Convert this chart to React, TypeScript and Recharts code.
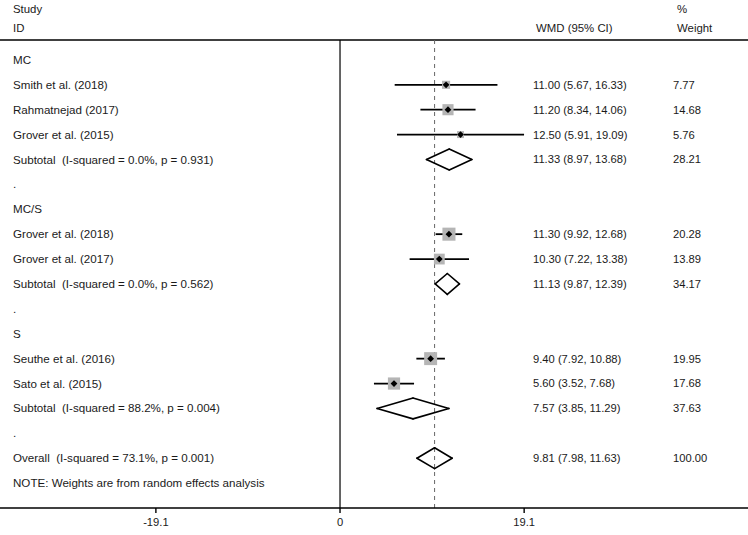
import React from "react";
import {
  ComposedChart,
  Scatter,
  XAxis,
  YAxis,
  ReferenceLine,
} from "recharts";

// individual studies
const studyNames = [
  "Smith et al. (2018)",
  "Rahmatnejad (2017)",
  "Grover et al. (2015)",
  "Grover et al. (2018)",
  "Grover et al. (2017)",
  "Seuthe et al. (2016)",
  "Sato et al. (2015)",
];
const studyRows = [1, 2, 3, 7, 8, 12, 13];
const studyEst = [11.0, 11.2, 12.5, 11.3, 10.3, 9.4, 5.6];
const studyLo = [5.67, 8.34, 5.91, 9.92, 7.22, 7.92, 3.52];
const studyHi = [16.33, 14.06, 19.09, 12.68, 13.38, 10.88, 7.68];
const studyWeight = [7.77, 14.68, 5.76, 20.28, 13.89, 19.95, 17.68];

// subtotals + overall
const pooledNames = [
  "Subtotal  (I-squared = 0.0%, p = 0.931)",
  "Subtotal  (I-squared = 0.0%, p = 0.562)",
  "Subtotal  (I-squared = 88.2%, p = 0.004)",
  "Overall  (I-squared = 73.1%, p = 0.001)",
];
const pooledRows = [4, 9, 14, 16];
const pooledEst = [11.33, 11.13, 7.57, 9.81];
const pooledLo = [8.97, 9.87, 3.85, 7.98];
const pooledHi = [13.68, 12.39, 11.29, 11.63];
const pooledWeight = [28.21, 34.17, 37.63, 100.0];

const groupNames = ["MC", "MC/S", "S"];
const groupRows = [0, 6, 11];
const spacerRows = [5, 10, 15];
const noteRow = 17;
const noteText = "NOTE: Weights are from random effects analysis";

const xTicks = [-19.1, 0, 19.1];

const W = 748;
const H = 535;
const FONT = "'Liberation Sans', Arial, Helvetica, sans-serif";
const INK = "#1a1a1a";
const X_DOMAIN: [number, number] = [-35.27, 42.32];
const Y_DOMAIN: [number, number] = [-0.8, 18];
const DIAMOND_H = 0.42;

const fmt = (v: number) => v.toFixed(2);

type RowInfo = { y: number; label: string; ci?: string; weight?: string };
const rowData: RowInfo[] = [];
groupRows.forEach((r, i) => rowData.push({ y: r, label: groupNames[i] }));
spacerRows.forEach((r) => rowData.push({ y: r, label: "." }));
rowData.push({ y: noteRow, label: noteText });
studyRows.forEach((r, i) =>
  rowData.push({
    y: r,
    label: studyNames[i],
    ci: `${fmt(studyEst[i])} (${fmt(studyLo[i])}, ${fmt(studyHi[i])})`,
    weight: fmt(studyWeight[i]),
  })
);
pooledRows.forEach((r, i) =>
  rowData.push({
    y: r,
    label: pooledNames[i],
    ci: `${fmt(pooledEst[i])} (${fmt(pooledLo[i])}, ${fmt(pooledHi[i])})`,
    weight: fmt(pooledWeight[i]),
  })
);
// text rows are anchored to the left edge of the x domain
const textData = rowData.map((r) => ({ ...r, x: X_DOMAIN[0] }));

const studyData = studyNames.map((n, i) => ({
  name: n,
  x: studyEst[i],
  y: studyRows[i],
  w: studyWeight[i],
}));

function RowText(props: any) {
  const { cy, payload } = props;
  const common = {
    y: cy,
    dy: "0.35em",
    fontFamily: FONT,
    fill: INK,
    style: { whiteSpace: "pre" as const },
  };
  return (
    <g>
      <text x={13} fontSize={11.6} {...common}>
        {payload.label}
      </text>
      {payload.ci && (
        <text x={533} fontSize={11.2} {...common}>
          {payload.ci}
        </text>
      )}
      {payload.weight && (
        <text x={673} fontSize={11.2} {...common}>
          {payload.weight}
        </text>
      )}
    </g>
  );
}

function WeightBox(props: any) {
  const { cx, cy, payload } = props;
  const s = 2.9 * Math.sqrt(payload.w);
  return <rect x={cx - s / 2} y={cy - s / 2} width={s} height={s} fill="#b5b5b5" />;
}

function EstDot(props: any) {
  const { cx, cy } = props;
  const d = 3.4;
  return (
    <polygon
      points={`${cx - d},${cy} ${cx},${cy - d} ${cx + d},${cy} ${cx},${cy + d}`}
      fill="#000"
    />
  );
}

const headStyle: React.CSSProperties = {
  position: "absolute",
  fontSize: 11.4,
  fontFamily: FONT,
  color: INK,
  lineHeight: "13px",
  whiteSpace: "pre",
};

export default function App() {
  const overall = pooledEst[pooledEst.length - 1];
  return (
    <div style={{ position: "relative", width: W, height: H, background: "#fff" }}>
      <style>{"body{margin:0}"}</style>
      <div style={{ ...headStyle, left: 13, top: 3 }}>Study</div>
      <div style={{ ...headStyle, left: 13, top: 22 }}>ID</div>
      <div style={{ ...headStyle, left: 536, top: 22 }}>WMD (95% CI)</div>
      <div style={{ ...headStyle, left: 677, top: 3 }}>%</div>
      <div style={{ ...headStyle, left: 677, top: 22 }}>Weight</div>
      <ComposedChart
        width={W}
        height={H}
        margin={{ top: 40, right: 0, bottom: 0, left: 0 }}
        style={{ position: "absolute", left: 0, top: 0 }}
      >
        <XAxis
          type="number"
          dataKey="x"
          domain={X_DOMAIN}
          allowDataOverflow
          ticks={xTicks}
          interval={0}
          height={27}
          tickSize={5}
          tickMargin={5}
          tickFormatter={(v: number) => String(v)}
          axisLine={{ stroke: "#000", strokeWidth: 1.4 }}
          tickLine={{ stroke: "#000", strokeWidth: 1.4 }}
          tick={{ fontSize: 11.2, fontFamily: FONT, fill: INK }}
        />
        <YAxis
          type="number"
          dataKey="y"
          domain={Y_DOMAIN}
          allowDataOverflow
          reversed
          hide
        />
        <ReferenceLine y={Y_DOMAIN[0]} stroke="#000" strokeWidth={1.4} />
        <ReferenceLine x={0} stroke="#000" strokeWidth={1.2} />
        <ReferenceLine
          x={overall}
          stroke="#666"
          strokeWidth={1}
          strokeDasharray="4 4"
        />
        <Scatter
          data={textData}
          dataKey="y"
          shape={<RowText />}
          isAnimationActive={false}
        />
        <Scatter
          data={studyData}
          dataKey="y"
          shape={<WeightBox />}
          isAnimationActive={false}
        />
        {studyRows.map((r, i) => (
          <ReferenceLine
            key={`ci-${i}`}
            segment={[
              { x: studyLo[i], y: r },
              { x: studyHi[i], y: r },
            ]}
            stroke="#000"
            strokeWidth={1.8}
          />
        ))}
        <Scatter
          data={studyData}
          dataKey="y"
          shape={<EstDot />}
          isAnimationActive={false}
        />
        {pooledRows.map((r, i) =>
          [
            [pooledLo[i], r, pooledEst[i], r - DIAMOND_H],
            [pooledEst[i], r - DIAMOND_H, pooledHi[i], r],
            [pooledHi[i], r, pooledEst[i], r + DIAMOND_H],
            [pooledEst[i], r + DIAMOND_H, pooledLo[i], r],
          ].map((s, k) => (
            <ReferenceLine
              key={`dm-${i}-${k}`}
              segment={[
                { x: s[0], y: s[1] },
                { x: s[2], y: s[3] },
              ]}
              stroke="#000"
              strokeWidth={1.6}
              strokeLinecap="round"
            />
          ))
        )}
      </ComposedChart>
    </div>
  );
}
